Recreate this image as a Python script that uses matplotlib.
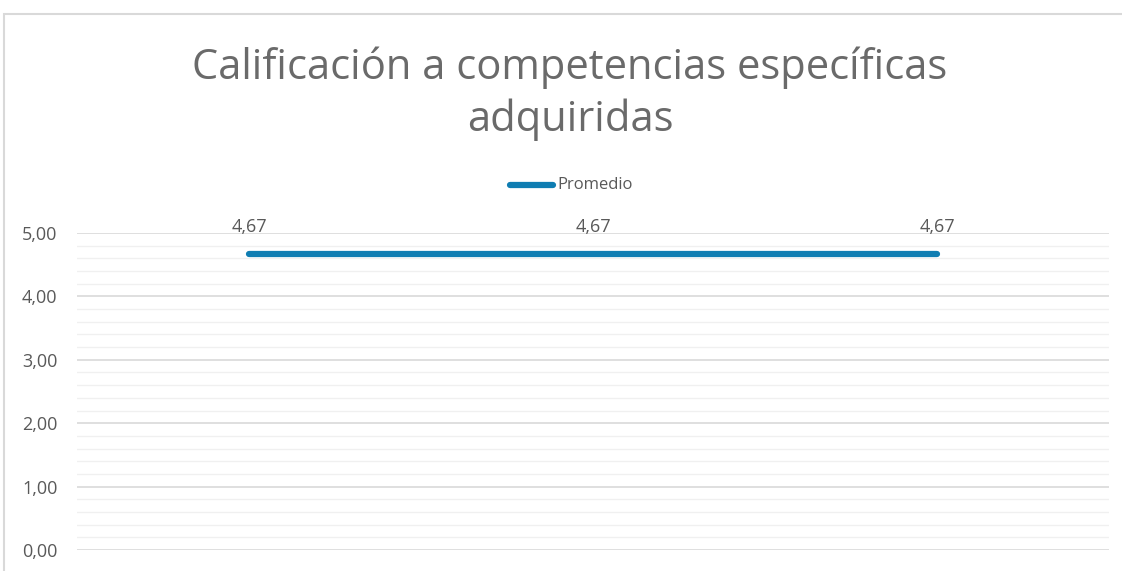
import matplotlib
matplotlib.use("Agg")
import matplotlib.pyplot as plt
from matplotlib.patches import Rectangle
from matplotlib.ticker import MultipleLocator, FuncFormatter

categories = ["1", "2", "3"]
promedio = [4.67, 4.67, 4.67]
series_name = "Promedio"
title = "Calificación a competencias específicas\nadquiridas"

LINE_COLOR = "#0f7db2"
TEXT_COLOR = "#595959"
TITLE_COLOR = "#6a6a6a"
GRID_MAJOR = "#d9d9d9"
GRID_MINOR = "#f0f0f0"

plt.rcParams["font.family"] = ["Open Sans", "DejaVu Sans"]

W, H = 1122, 571
fig = plt.figure(figsize=(W / 100, H / 100), dpi=100)
fig.patch.set_facecolor("white")

# chart frame (cut off at right and bottom like the screenshot)
fig.patches.append(Rectangle((4 / W, -0.1), 1.2, (H - 14) / H + 0.1,
                             transform=fig.transFigure, fill=False,
                             edgecolor="#d9d9d9", linewidth=1.5))

ax = fig.add_axes([77 / W, (H - 550) / H, (1109 - 77) / W, (550 - 233) / H])
x = list(range(len(categories)))
ax.plot(x, promedio, color=LINE_COLOR, linewidth=4.5, solid_capstyle="round", zorder=3)

for xi, v in zip(x, promedio):
    ax.annotate(f"{v:.2f}".replace(".", ","), (xi, v), xytext=(0, 13),
                textcoords="offset points", ha="center", va="bottom",
                fontsize=13, color=TEXT_COLOR)

ax.set_xlim(-0.5, len(categories) - 0.5)
ax.set_ylim(0, 5)
ax.yaxis.set_major_locator(MultipleLocator(1))
ax.yaxis.set_minor_locator(MultipleLocator(0.2))
ax.yaxis.set_major_formatter(FuncFormatter(lambda v, _: f"{v:.2f}".replace(".", ",")))
ax.grid(True, which="major", axis="y", color=GRID_MAJOR, linewidth=1.2)
ax.grid(True, which="minor", axis="y", color=GRID_MINOR, linewidth=1.0)
ax.set_axisbelow(True)
ax.set_xticks([])
for s in ax.spines.values():
    s.set_visible(False)
ax.tick_params(axis="y", which="both", length=0, labelsize=13, labelcolor=TEXT_COLOR, pad=14)

fig.text(570 / W, 1 - 94 / H, title, ha="center", va="center", fontsize=30,
         color=TITLE_COLOR, linespacing=1.3)

# legend
leg_y = 1 - 185 / H
fig.add_artist(plt.Line2D([510 / W, 553 / W], [leg_y, leg_y], transform=fig.transFigure,
                          color=LINE_COLOR, linewidth=4.5, solid_capstyle="round"))
fig.text(557 / W, leg_y, series_name, ha="left", va="center", fontsize=12, color=TEXT_COLOR)

fig.savefig("out.png", dpi=100, facecolor="white")
